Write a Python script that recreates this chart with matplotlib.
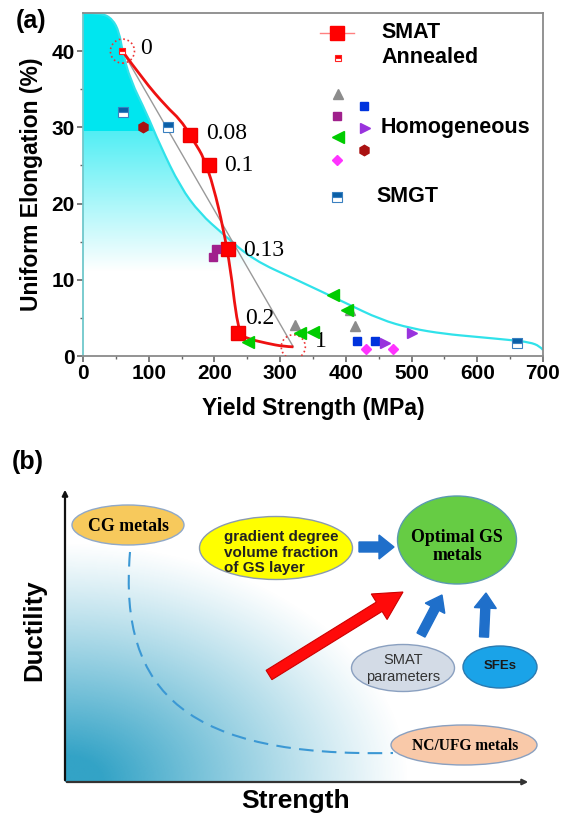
import numpy as np
import matplotlib
matplotlib.use("Agg")
import matplotlib.pyplot as plt
from matplotlib.patches import Ellipse, PathPatch
from matplotlib.path import Path

plt.rcParams['font.family'] = ['Liberation Sans', 'DejaVu Sans']

# ---------------- data: panel (a) ----------------
# cyan boundary curve (yield strength MPa, uniform elongation %)
curve_x = [0, 28, 45, 55, 60, 72, 97, 117, 148, 178, 213, 259, 325, 401, 452, 500, 550, 600, 650, 680, 695, 700]
curve_y = [45, 45, 44.2, 42.5, 40, 36.2, 31.8, 27.7, 22.2, 18.7, 16.0, 12.6, 10.0, 6.9, 4.8, 3.6, 2.9, 2.5, 2.1, 1.8, 1.3, 0.8]

# SMAT trace (red line) and SMAT markers
smat_line_x = [60, 92, 127, 148, 163, 191, 221, 236, 249, 280, 305, 320]
smat_line_y = [40, 36.2, 32.7, 31.0, 29, 25, 14, 3, 2.3, 1.66, 1.25, 1.2]
smat_x = [163, 191, 221, 236]
smat_y = [29, 25, 14, 3]
smat_labels = ["0.08", "0.1", "0.13", "0.2"]

annealed_x = [60]
annealed_y = [40]
endpoints_x = [60, 320]
endpoints_y = [40, 1.2]
endpoint_labels = ["0", "1"]

smgt_x = [61, 130, 660]
smgt_y = [32, 30.1, 1.7]

homo_gray_tri_x = [322, 407, 414]
homo_gray_tri_y = [4.1, 6.0, 4.0]
homo_purple_sq_x = [203, 198]
homo_purple_sq_y = [14.1, 13.0]
homo_green_tri_x = [251, 330, 350, 381, 401]
homo_green_tri_y = [1.9, 3.0, 3.1, 8.0, 6.0]
homo_blue_sq_x = [417, 445]
homo_blue_sq_y = [2.0, 2.0]
homo_violet_tri_x = [460, 501]
homo_violet_tri_y = [1.66, 3.0]
homo_hex_x = [92]
homo_hex_y = [30.0]
homo_diamond_x = [430, 471]
homo_diamond_y = [0.96, 0.96]

x_ticks = [0, 100, 200, 300, 400, 500, 600, 700]
y_ticks = [0, 10, 20, 30, 40]

# ---------------- data: panel (b) ----------------
bubble_texts = ["CG metals", "gradient degree\nvolume fraction\nof GS layer", "Optimal GS\nmetals",
                "SMAT\nparameters", "SFEs", "NC/UFG metals"]


def smooth_codes(xs, ys):
    """Quadratic-Bezier path using the read points as control points (drawing only)."""
    pts = list(zip(xs, ys))
    verts = [pts[0]]
    codes = [Path.MOVETO]
    for i in range(1, len(pts) - 1):
        mid = ((pts[i][0] + pts[i + 1][0]) / 2, (pts[i][1] + pts[i + 1][1]) / 2)
        if i == len(pts) - 2:
            mid = pts[-1]
        verts += [pts[i], mid]
        codes += [Path.CURVE3, Path.CURVE3]
    return verts, codes


W, H = 566, 818
fig = plt.figure(figsize=(W / 100, H / 100), dpi=100)

# ================= panel (a) =================
L, R, T, B = 83, 543, 13, 356
ax = fig.add_axes([L / W, (H - B) / H, (R - L) / W, (B - T) / H])
ax.set_xlim(0, 700)
ax.set_ylim(0, 45)

cv, cc = smooth_codes(curve_x, curve_y)
# gradient fill below the curve
fill_verts = [(0, 0), (0, 45)] + cv[1:] + [(700, 0), (0, 0)]
fill_codes = [Path.MOVETO, Path.LINETO] + cc[1:] + [Path.LINETO, Path.CLOSEPOLY]
fill_patch = PathPatch(Path(fill_verts, fill_codes), facecolor='none', edgecolor='none')
ax.add_patch(fill_patch)
yy = np.linspace(0, 45, 900)
a = np.where(yy >= 29.5, 1.0, 0.68 * np.clip((yy - 11) / (29.5 - 11), 0, 1))
img = np.zeros((len(yy), 1, 4))
img[..., 0] = 0 / 255
img[..., 1] = 230 / 255
img[..., 2] = 239 / 255
img[:, 0, 3] = a
im = ax.imshow(img, extent=[0, 700, 0, 45], origin='lower', aspect='auto', zorder=0.5, interpolation='nearest')
im.set_clip_path(fill_patch)
ax.add_patch(PathPatch(Path(cv, cc), fill=False, edgecolor='#30e2ea', lw=1.6, zorder=1))

# gray straight line
ax.plot(endpoints_x, endpoints_y, color='#999999', lw=1.0, zorder=2)
# SMAT line
sv, sc = smooth_codes(smat_line_x, smat_line_y)
ax.add_patch(PathPatch(Path(sv, sc), fill=False, edgecolor='#ee1111', lw=2.0, zorder=3))
ax.plot(smat_x, smat_y, 's', color='#ff0000', ms=10, mec='#ee0000', zorder=4, linestyle='none')

# dotted circles
ax.scatter(endpoints_x, endpoints_y, s=300, facecolors='none', edgecolors='#ee3333',
           linestyles=':', linewidths=1.2, zorder=5)

# annealed
ax.plot(annealed_x, annealed_y, 's', ms=5, mfc='#ff0000', mfcalt='white', fillstyle='top',
        mec='#ff2222', mew=0.8, zorder=6)
# SMGT
ax.plot(smgt_x, smgt_y, 's', ms=7, mfc='#0a5fa6', mfcalt='white', fillstyle='top',
        mec='#3a80c0', mew=0.8, zorder=6, linestyle='none')
# homogeneous
ax.plot(homo_gray_tri_x, homo_gray_tri_y, '^', ms=7, color='#8c8c8c', linestyle='none', zorder=6)
ax.plot(homo_purple_sq_x, homo_purple_sq_y, 's', ms=5.5, color='#a0208c', linestyle='none', zorder=6)
ax.plot(homo_green_tri_x, homo_green_tri_y, '<', ms=8.5, color='#00cc00', linestyle='none', zorder=6)
ax.plot(homo_blue_sq_x, homo_blue_sq_y, 's', ms=6, color='#0033dd', linestyle='none', zorder=6)
ax.plot(homo_violet_tri_x, homo_violet_tri_y, '>', ms=7, color='#9933dd', linestyle='none', zorder=6)
ax.plot(homo_hex_x, homo_hex_y, 'h', ms=7.5, color='#aa1111', linestyle='none', zorder=6)
ax.plot(homo_diamond_x, homo_diamond_y, 'D', ms=5.5, color='#ff33ff', linestyle='none', zorder=6)

# value labels
serif = ['Liberation Serif', 'DejaVu Serif']
lab_off = [(24, 0.2), (23, 0), (23, -0.1), (11, 1.9)]
for x, y, t, (dx, dy) in zip(smat_x, smat_y, smat_labels, lab_off):
    ax.text(x + dx, y + dy, t, family=serif, fontsize=17, va='center', ha='left', zorder=7)
ax.text(endpoints_x[0] + 27, endpoints_y[0] + 0.3, endpoint_labels[0], family=serif, fontsize=17, va='center', ha='left')
ax.text(endpoints_x[1] + 33, endpoints_y[1] + 0.7, endpoint_labels[1], family=serif, fontsize=17, va='center', ha='left')

# legend (manual)
tr = ax.transAxes
ax.plot([0.516, 0.590], [0.942, 0.942], color='#ff8080', lw=1.0, transform=tr, clip_on=False)
ax.plot([0.553], [0.942], 's', ms=10, color='#ff0000', transform=tr, clip_on=False)
ax.plot([0.555], [0.868], 's', ms=5, mfc='#ff0000', mfcalt='white', fillstyle='top', mec='#ff2222', mew=0.8, transform=tr)
ax.plot([0.555], [0.765], '^', ms=7, color='#8c8c8c', transform=tr)
ax.plot([0.611], [0.728], 's', ms=6, color='#0033dd', transform=tr)
ax.plot([0.553], [0.700], 's', ms=5.5, color='#a0208c', transform=tr)
ax.plot([0.614], [0.665], '>', ms=7, color='#9933dd', transform=tr)
ax.plot([0.555], [0.639], '<', ms=8.5, color='#00cc00', transform=tr)
ax.plot([0.611], [0.602], 'h', ms=7.5, color='#aa1111', transform=tr)
ax.plot([0.553], [0.571], 'D', ms=5.5, color='#ff33ff', transform=tr)
ax.plot([0.553], [0.464], 's', ms=7, mfc='#0a5fa6', mfcalt='white', fillstyle='top', mec='#3a80c0', mew=0.8, transform=tr)
leg_font = dict(fontsize=15.5, fontweight='bold', va='center', ha='left', transform=tr)
ax.text(0.648, 0.942, "SMAT", **leg_font)
ax.text(0.648, 0.870, "Annealed", **leg_font)
ax.text(0.648, 0.665, "Homogeneous", **leg_font)
ax.text(0.637, 0.466, "SMGT", **leg_font)

# axes style
for s in ax.spines.values():
    s.set_color('#8a8a8a')
    s.set_linewidth(1.3)
ax.spines['left'].set_color('#6fc8cc')
ax.set_xticks(x_ticks)
ax.set_yticks(y_ticks)
ax.set_xticks(np.arange(50, 700, 100), minor=True)
ax.set_yticks(np.arange(5, 45, 10), minor=True)
ax.tick_params(axis='both', which='major', direction='out', length=4, width=1.2, color='#666666',
               labelsize=15, pad=2)
ax.tick_params(axis='both', which='minor', direction='out', length=2.5, width=1.0, color='#666666')
for lab in ax.get_xticklabels() + ax.get_yticklabels():
    lab.set_fontweight('bold')
ax.set_xlabel("Yield Strength (MPa)", fontsize=16.5, fontweight='bold', labelpad=10)
ax.set_ylabel("Uniform Elongation (%)", fontsize=16.5, fontweight='bold', labelpad=6)
fig.text(16 / W, 1 - 21 / H, "(a)", fontsize=18, fontweight='bold', va='center', ha='left')

# ================= panel (b) =================
bt = 450
axb = fig.add_axes([0, 0, 1, (H - bt) / H])
axb.set_xlim(0, W)
axb.set_ylim(H, bt)
axb.axis('off')

ox, oy, xend, ytop = 65, 782, 531, 487
# gradient corner
nx, ny = 300, 300
gx = np.linspace(ox, 430, nx)
gy = np.linspace(oy, 530, ny)
GX, GY = np.meshgrid(gx, gy)
r = np.sqrt(((GX - ox) / 345.0) ** 2 + ((oy - GY) / 240.0) ** 2)
alpha = np.clip(1 - r, 0, 1) ** 1.1
gimg = np.zeros((ny, nx, 4))
gimg[..., 0] = 40 / 255
gimg[..., 1] = 158 / 255
gimg[..., 2] = 195 / 255
gimg[..., 3] = np.clip(alpha * 1.08, 0, 0.95)
axb.imshow(gimg, extent=[ox, 430, oy, 530], origin='lower', aspect='auto', zorder=0, interpolation='bilinear')

# axes arrows
axb.annotate("", xy=(ox, ytop), xytext=(ox, oy + 1),
             arrowprops=dict(arrowstyle='-|>', color='#111111', lw=1.6, mutation_scale=8), zorder=3)
axb.annotate("", xy=(xend, oy), xytext=(ox - 1, oy),
             arrowprops=dict(arrowstyle='-|>', color='#333333', lw=1.6, mutation_scale=8), zorder=3)

# dashed curve
verts_c = [(130, 552), (118, 695), (190, 757), (393, 753)]
pp = PathPatch(Path(verts_c, [Path.MOVETO, Path.CURVE4, Path.CURVE4, Path.CURVE4]),
               fill=False, edgecolor='#3b98d4', lw=1.5, linestyle=(0, (7, 4)), zorder=2)
axb.add_patch(pp)

# ellipses
ells = [((128, 525), 112, 40, '#f7c95c', '#8fa8c8'),
        ((276, 548), 153, 63, '#ffff00', '#8a9ab0'),
        ((457, 540), 119, 88, '#66cc44', '#5a9ab0'),
        ((403, 668), 103, 47, '#d3dbe6', '#8aa0c0'),
        ((500, 667), 74, 42, '#1aa3e8', '#2a7ab0'),
        ((464, 745), 146, 40, '#f9c9a9', '#8aa0c0')]
for (c, w, h, fc, ec) in ells:
    axb.add_patch(Ellipse(c, w, h, facecolor=fc, edgecolor=ec, lw=1.0, zorder=4))

# arrows
axb.arrow(359, 547, 35, 0, width=10, head_width=24, head_length=15, length_includes_head=True,
          color='#1f6fca', zorder=5)
axb.arrow(269, 675, 134, -83, width=11, head_width=30, head_length=28, length_includes_head=True,
          facecolor='#ff0a0a', edgecolor='#cc0000', lw=0.8, zorder=5)
axb.arrow(421, 635, 21, -40, width=9, head_width=22, head_length=15, length_includes_head=True,
          color='#1f6fca', zorder=5)
axb.arrow(484, 637, 2, -44, width=9, head_width=22, head_length=15, length_includes_head=True,
          color='#1f6fca', zorder=5)

# texts
axb.text(128, 526, bubble_texts[0], family=serif, fontweight='bold', fontsize=12.8, ha='center', va='center', zorder=6)
for i, line in enumerate(bubble_texts[1].split("\n")):
    axb.text(224, 537 + 15.7 * i, line, fontweight='bold', fontsize=11, ha='left', va='center', color='#222222', zorder=6)
for i, line in enumerate(bubble_texts[2].split("\n")):
    axb.text(457, 537 + 18 * i, line, family=serif, fontweight='bold', fontsize=12.8, ha='center', va='center', zorder=6)
for i, line in enumerate(bubble_texts[3].split("\n")):
    axb.text(403, 660 + 16.5 * i, line, fontsize=10.5, ha='center', va='center', color='#333333', zorder=6)
axb.text(500, 666, bubble_texts[4], fontweight='bold', fontsize=9.5, ha='center', va='center', color='#1a1a1a', zorder=6)
axb.text(465, 746, bubble_texts[5], family=serif, fontweight='bold', fontsize=11.2, ha='center', va='center', zorder=6)

axb.text(34, 630, "Ductility", fontsize=18.5, fontweight='bold', rotation=90, ha='center', va='center')
axb.text(296, 801, "Strength", fontsize=19, fontweight='bold', ha='center', va='center')
axb.text(12, 462, "(b)", fontsize=18, fontweight='bold', ha='left', va='center')

fig.savefig("out.png", dpi=100)
